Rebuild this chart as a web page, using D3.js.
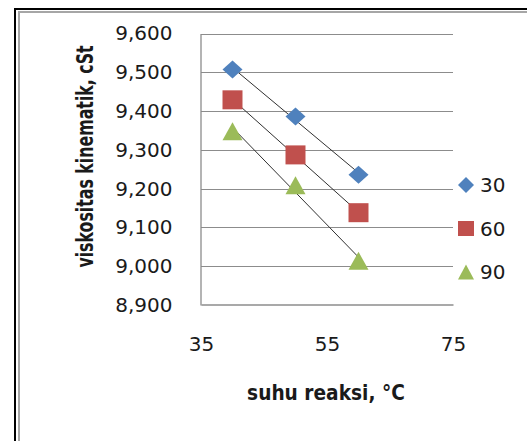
<!DOCTYPE html>
<html>
<head>
<meta charset="utf-8">
<script src="https://cdn.jsdelivr.net/npm/d3@7"></script>
<style>
  body { margin: 0; background: #fff; }
  svg { display: block; }
</style>
</head>
<body>
<script>
// suhu reaksi (x) and viskositas per waktu reaksi
var temps = [40, 50, 60];
var seriesNames = ["30", "60", "90"];
var visc30 = [9.507, 9.386, 9.236];
var visc60 = [9.429, 9.287, 9.138];
var visc90 = [9.348, 9.209, 9.014];
var yTicks = [8.9, 9.0, 9.1, 9.2, 9.3, 9.4, 9.5, 9.6];
var xTicks = [35, 55, 75];

var seriesValues = [visc30, visc60, visc90];
var colors = ["#4f81bd", "#c0504d", "#9bbb59"];
var shapes = ["diamond", "square", "triangle"];

var svg = d3.select("body").append("svg")
    .attr("width", 527)
    .attr("height", 441);

// frame (black + grey, runs off right/bottom)
svg.append("rect").attr("x", 15).attr("y", 9).attr("width", 600).attr("height", 600)
    .attr("fill", "none").attr("stroke", "#000").attr("stroke-width", 2);
svg.append("rect").attr("x", 19).attr("y", 12).attr("width", 600).attr("height", 600)
    .attr("fill", "none").attr("stroke", "#a6a6a6").attr("stroke-width", 2);

var xScale = d3.scaleLinear().domain([35, 75]).range([201, 453]);
var yScale = d3.scaleLinear().domain([8.9, 9.6]).range([305, 33.5]);

var fmt = d3.format(",.0f");

// gridlines
svg.append("g").selectAll("line").data(yTicks.slice(1))
  .enter().append("line")
    .attr("x1", xScale(35)).attr("x2", xScale(75))
    .attr("y1", function(d) { return Math.round(yScale(d)) + 0.5; })
    .attr("y2", function(d) { return Math.round(yScale(d)) + 0.5; })
    .attr("stroke", "#8c8c8c").attr("stroke-width", 1);

// axes (no ticks, just lines + labels)
var yAxis = svg.append("g")
    .attr("transform", "translate(" + (xScale(35) - 0.5) + ",0)")
    .call(d3.axisLeft(yScale).tickValues(yTicks).tickSize(0).tickPadding(28)
      .tickFormat(function(d) { return fmt(d * 1000); }));
var xAxis = svg.append("g")
    .attr("transform", "translate(0," + (Math.round(yScale(8.9)) - 0.5) + ")")
    .call(d3.axisBottom(xScale).tickValues(xTicks).tickSize(0).tickPadding(32));

[yAxis, xAxis].forEach(function(ax) {
  ax.select(".domain").attr("stroke", "#8c8c8c").attr("stroke-width", 1.3);
  ax.selectAll("text")
    .attr("font-family", "DejaVu Sans")
    .attr("font-size", 20)
    .attr("fill", "#1a1a1a");
});

// marker paths
function marker(shape, w, h) {
  var a = w / 2, b = h / 2;
  if (shape == "diamond") return "M0," + (-b) + "L" + a + ",0L0," + b + "L" + (-a) + ",0Z";
  if (shape == "square") return "M" + (-a) + "," + (-b) + "H" + a + "V" + b + "H" + (-a) + "Z";
  return "M0," + (-b) + "L" + a + "," + b + "L" + (-a) + "," + b + "Z";
}

// linear trendlines
seriesValues.forEach(function(vals, s) {
  var mx = d3.mean(temps), my = d3.mean(vals);
  var num = d3.sum(temps, function(t, i) { return (t - mx) * (vals[i] - my); });
  var den = d3.sum(temps, function(t) { return (t - mx) * (t - mx); });
  var slope = num / den, icpt = my - slope * mx;
  var ends = [d3.min(temps), d3.max(temps)];
  svg.append("path")
    .datum(ends)
    .attr("d", d3.line()
      .x(function(t) { return xScale(t); })
      .y(function(t) { return yScale(icpt + slope * t); }))
    .attr("fill", "none")
    .attr("stroke", "#303030")
    .attr("stroke-width", 1);
});

// points
seriesValues.forEach(function(vals, s) {
  svg.append("g").selectAll("path").data(vals)
    .enter().append("path")
      .attr("transform", function(d, i) { return "translate(" + xScale(temps[i]) + "," + yScale(d) + ")"; })
      .attr("d", marker(shapes[s], 20, s == 1 ? 19 : 18))
      .attr("fill", colors[s]);
});

// legend
var legend = svg.append("g").selectAll("g").data(seriesNames)
  .enter().append("g")
    .attr("transform", function(d, i) { return "translate(466," + (185 + i * 43.5) + ")"; });
legend.append("path")
    .attr("d", function(d, i) { return marker(shapes[i], 16, i == 0 ? 16 : 15); })
    .attr("fill", function(d, i) { return colors[i]; });
legend.append("text")
    .text(function(d) { return d; })
    .attr("x", 14)
    .attr("y", 7)
    .attr("font-family", "DejaVu Sans")
    .attr("font-size", 20)
    .attr("fill", "#1a1a1a");

// axis titles (stretched across the line like the original)
svg.append("text")
    .text("viskositas kinematik, cSt")
    .attr("transform", "translate(93,156.5) rotate(-90) scale(1,1.4)")
    .attr("text-anchor", "middle")
    .attr("font-family", "DejaVu Sans")
    .attr("font-weight", "bold")
    .attr("font-size", 15.8)
    .attr("fill", "#1a1a1a");

svg.append("text")
    .text("suhu reaksi, °C")
    .attr("transform", "translate(326,400) scale(1,1.18)")
    .attr("text-anchor", "middle")
    .attr("font-family", "DejaVu Sans")
    .attr("font-weight", "bold")
    .attr("font-size", 18.6)
    .attr("fill", "#1a1a1a");
</script>
</body>
</html>
